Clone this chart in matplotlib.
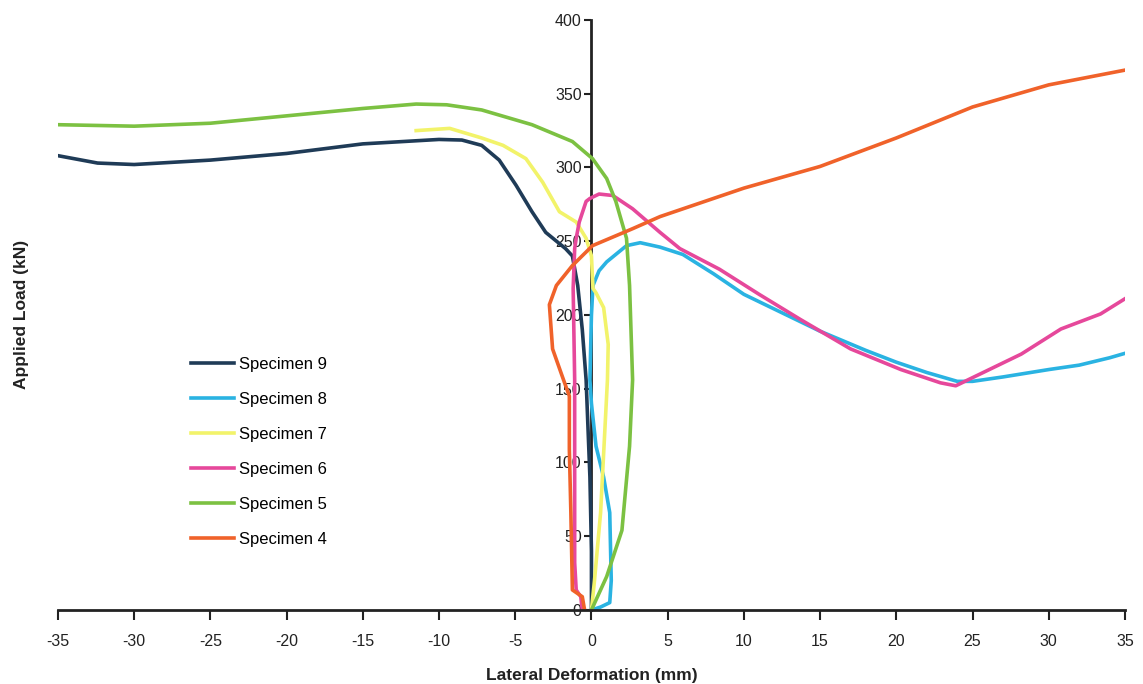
import matplotlib.pyplot as plt
import numpy as np

plt.rcParams['font.family'] = ['Liberation Sans', 'DejaVu Sans']
plt.rcParams['axes.unicode_minus'] = False

# Specimen curves (x = lateral deformation mm, y = load kN)
s9_x = [0, 0, -0.1, -0.35, -0.6, -0.9, -1.25, -1.7, -3.0, -3.9, -4.95, -6.05, -7.2, -8.5, -10, -15, -20, -25, -30, -32.4, -35]
s9_y = [0, 40, 90, 156, 190, 220, 240, 245, 256, 270, 288, 305, 315, 318.6, 319, 316, 309.5, 305, 302, 303, 308]

s8_x = [0, 0.6, 1.2, 1.3, 1.2, 0.8, 0.3, 0.0, -0.1, 0.0, 0.1, 0.5, 1.0, 2.3, 3.2, 4.5, 6.0, 8.0, 10, 12, 15, 18, 20, 22, 24, 25, 27, 30, 32, 34, 35]
s8_y = [0, 2, 5, 20, 66, 90, 111, 140, 156, 200, 220, 230, 236, 247, 249, 246, 241, 228, 214, 204, 189, 176, 168, 161, 155, 155, 158, 163, 166, 171, 174]

s7_x = [0, 0.2, 0.6, 1.05, 1.1, 0.8, 0.3, 0.1, 0, -0.35, -1.0, -2.1, -3.2, -4.3, -5.8, -7.2, -9.3, -11.5]
s7_y = [0, 20, 66, 156, 180, 205, 215, 218, 240, 252, 263, 270, 290, 306, 315, 320, 326.5, 325]

s6_x = [-0.6, -0.7, -1.0, -1.1, -1.1, -1.2, -1.1, -1.0, -0.8, -0.35, -0.1, 0.5, 1.4, 2.7, 4.5, 5.8, 8.4, 11, 13.7, 17, 20.3, 22.9, 23.9, 25.5, 28.2, 30.8, 33.4, 35]
s6_y = [0, 9, 13.6, 32, 156, 218, 245, 252, 263, 277, 279, 282, 281, 272, 256, 245, 231, 214, 197, 177, 163, 154, 152, 160, 173.5, 190.5, 200.7, 211]

s5_x = [0, 1.0, 2.0, 2.5, 2.7, 2.5, 2.3, 1.6, 1.0, 0.07, -1.25, -3.9, -7.2, -9.5, -11.5, -15, -20, -25, -30, -35]
s5_y = [0, 22.7, 54, 111, 156, 220, 252, 277, 292.5, 306, 317.6, 329, 339, 342.5, 343, 340, 335, 330, 328, 329]

s4_x = [-0.45, -0.6, -1.25, -1.35, -1.45, -1.45, -1.9, -2.55, -2.76, -2.3, -1.25, 0.07, 2.7, 4.5, 10, 15, 20, 25, 30, 35]
s4_y = [0, 9, 13.6, 66, 109, 145, 158, 177, 207, 220, 233.5, 247, 258.5, 266.7, 286, 300.7, 320, 341, 356, 366]

series = [
    ('Specimen 9', s9_x, s9_y, '#1f3b57'),
    ('Specimen 8', s8_x, s8_y, '#2ab3e2'),
    ('Specimen 7', s7_x, s7_y, '#f2f36a'),
    ('Specimen 6', s6_x, s6_y, '#e6489b'),
    ('Specimen 5', s5_x, s5_y, '#7cc142'),
    ('Specimen 4', s4_x, s4_y, '#f0622a'),
]

fig = plt.figure(figsize=(11.43, 6.84), dpi=100)
ax = fig.add_axes([0.0507, 0.1082, 0.9335, 0.8626])

for name, xs, ys, col in series:
    ax.plot(xs, ys, color=col, lw=2.6, label=name, solid_joinstyle='round')

ax.set_xlim(-35, 35)
ax.set_ylim(0, 400)
ax.set_xticks(np.arange(-35, 36, 5))
ax.set_yticks(np.arange(0, 401, 50))

# axes cross at the origin
ax.spines['left'].set_position(('data', 0))
ax.spines['right'].set_visible(False)
ax.spines['top'].set_visible(False)
for sp in ('left', 'bottom'):
    ax.spines[sp].set_linewidth(2)
    ax.spines[sp].set_color('#222222')
ax.spines['left'].set_zorder(1)

ax.tick_params(axis='x', direction='out', length=7, width=1.5, colors='#222222',
               labelsize=11.5, pad=10)
ax.tick_params(axis='y', direction='out', length=5, width=1.5, colors='#222222',
               labelsize=11.5, pad=2)

fig.text(0.518, 0.002, 'Lateral Deformation (mm)', ha='center', va='bottom',
         fontsize=12.5, fontweight='bold', color='#222222')
fig.text(0.019, 0.54, 'Applied Load (kN)', ha='center', va='center', rotation=90,
         fontsize=12.5, fontweight='bold', color='#222222')

ax.legend(loc='upper left', bbox_to_anchor=(0.118, 0.44), frameon=False,
          fontsize=12, labelspacing=1.2, handlelength=2.6, handletextpad=0.3,
          borderaxespad=0)

fig.savefig('out.png', dpi=100)
